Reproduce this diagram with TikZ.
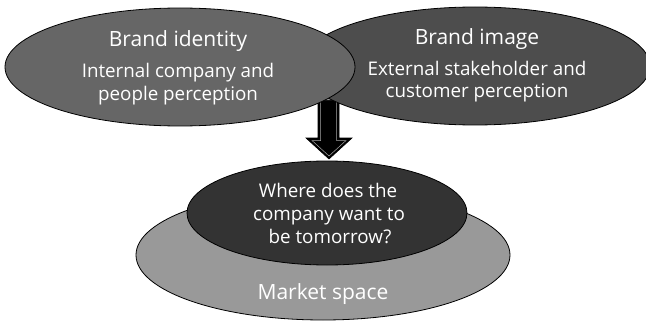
\documentclass[tikz,border=0pt]{standalone}
\usepackage{fontspec}
\setmainfont{Open Sans}
\usetikzlibrary{shapes.geometric}
\definecolor{ellA}{HTML}{666666}
\definecolor{ellB}{HTML}{4D4D4D}
\definecolor{ellC}{HTML}{999999}
\definecolor{ellD}{HTML}{333333}
\tikzset{
  oval/.style={ellipse, draw=black, line width=0.8pt, inner sep=0pt},
  titletext/.style={text=white, font=\fontsize{21}{24}\selectfont, inner sep=0pt, anchor=base},
  bodytext/.style={text=white, font=\fontsize{18.8}{22}\selectfont, inner sep=0pt, anchor=base},
}
\begin{document}
\begin{tikzpicture}[x=1pt,y=-1pt]
\useasboundingbox (0,0) rectangle (646,321);
% arrow
\path[fill=black, draw=black, line width=0.6pt]
  (318,100) -- (339,100) -- (339,138) -- (352,138) -- (329,159) -- (306,138) -- (318,138) -- cycle;
\draw[gray!70, line width=0.5pt]
  (320.5,100) -- (336.5,100) -- (336.5,140.5) -- (346,140.5) -- (329,156) -- (312,140.5) -- (320.5,140.5) -- cycle;
% top ellipses
\node[oval, fill=ellB, minimum width=350pt, minimum height=118pt] (bim) at (475,66) {};
\node[oval, fill=ellA, minimum width=350pt, minimum height=118pt] (bid) at (180,67) {};
\node[titletext] (bidt) at (178,47) {Brand identity};
\node[bodytext] (bidb1) at (178,78) {Internal company and};
\node[bodytext] (bidb2) at (178,100) {people perception};
\node[titletext] (bimt) at (477,45) {Brand image};
\node[bodytext] (bimb1) at (477,76) {External stakeholder and};
\node[bodytext] (bimb2) at (477,98) {customer perception};
% bottom ellipses
\node[oval, fill=ellC, minimum width=374pt, minimum height=130pt] (mkt) at (323,255) {};
\node[oval, fill=ellD, minimum width=280pt, minimum height=104pt] (tom) at (327,213) {};
\node[bodytext] (tom1) at (328,197) {Where does the};
\node[bodytext] (tom2) at (329,220) {company want to};
\node[bodytext] (tom3) at (330,243) {be tomorrow?};
\node[titletext] (mktt) at (323,299) {Market space};
\end{tikzpicture}
\end{document}
